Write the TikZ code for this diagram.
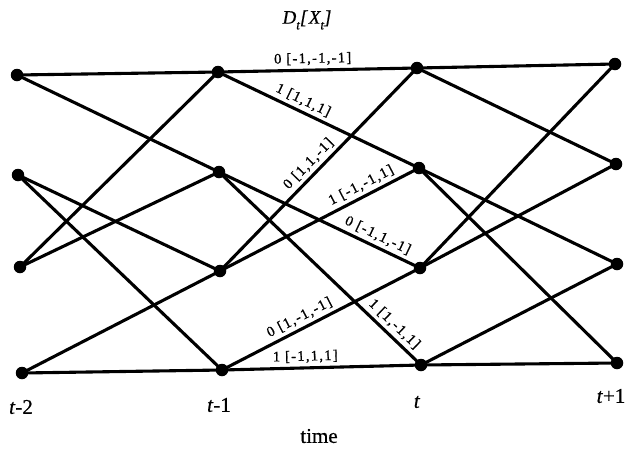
\documentclass[tikz,border=0pt]{standalone}
\usepackage{fontspec}
\setmainfont[FakeBold=0.6]{Liberation Serif}
\newfontfamily\lblfont[LetterSpace=9,FakeBold=0.8]{Liberation Serif}
\newfontfamily\ttlfont[LetterSpace=8,FakeBold=0.6]{Liberation Serif}
\newfontfamily\axfont[FakeBold=0.6]{Liberation Serif}
\begin{document}
\begin{tikzpicture}[x=1pt,y=-1pt,
  st/.style={circle, fill=black, inner sep=0pt, minimum size=12.5pt},
  edge/.style={line width=3.1pt},
  lab/.style={sloped, above, font=\lblfont\fontsize{14.5}{14.5}\selectfont, inner sep=3.5pt},
  tlab/.style={font=\axfont\fontsize{21}{21}\selectfont},
  ttl/.style={font=\ttlfont\fontsize{19}{19}\selectfont\itshape}]
\useasboundingbox (0,0) rectangle (632,451);
% states
\node[st] (a0) at (17,75) {};
\node[st] (a1) at (18,175) {};
\node[st] (a2) at (20,267) {};
\node[st] (a3) at (22,373) {};
\node[st] (b0) at (218,72) {};
\node[st] (b1) at (219,172) {};
\node[st] (b2) at (220,271) {};
\node[st] (b3) at (222,370) {};
\node[st] (c0) at (417,68) {};
\node[st] (c1) at (419,168) {};
\node[st] (c2) at (420,268) {};
\node[st] (c3) at (421,365) {};
\node[st] (d0) at (615,64) {};
\node[st] (d1) at (616,164) {};
\node[st] (d2) at (617,264) {};
\node[st] (d3) at (617,363) {};
% stage a -> b
\draw[edge] (a0.center) -- (b0.center);
\draw[edge] (a0.center) -- (b1.center);
\draw[edge] (a1.center) -- (b2.center);
\draw[edge] (a1.center) -- (b3.center);
\draw[edge] (a2.center) -- (b0.center);
\draw[edge] (a2.center) -- (b1.center);
\draw[edge] (a3.center) -- (b2.center);
\draw[edge] (a3.center) -- (b3.center);
% stage b -> c (labelled)
\draw[edge] (b0.center) -- node[lab, pos=0.477] {0 [-1,-1,-1]} (c0.center);
\draw[edge] (b0.center) -- node[lab, pos=0.40] {1 [1,1,1]} (c1.center);
\draw[edge] (b1.center) -- node[lab, pos=0.766] {0 [-1,1,-1]} (c2.center);
\draw[edge] (b1.center) -- node[lab, pos=0.83] {1 [1,-1,1]} (c3.center);
\draw[edge] (b2.center) -- node[lab, pos=0.49] {0 [1,1,-1]} (c0.center);
\draw[edge] (b2.center) -- node[lab, pos=0.735] {1 [-1,-1,1]} (c1.center);
\draw[edge] (b3.center) -- node[lab, pos=0.417] {0 [1,-1,-1]} (c2.center);
\draw[edge] (b3.center) -- node[lab, pos=0.42] {1 [-1,1,1]} (c3.center);
% stage c -> d
\draw[edge] (c0.center) -- (d0.center);
\draw[edge] (c0.center) -- (d1.center);
\draw[edge] (c1.center) -- (d2.center);
\draw[edge] (c1.center) -- (d3.center);
\draw[edge] (c2.center) -- (d0.center);
\draw[edge] (c2.center) -- (d1.center);
\draw[edge] (c3.center) -- (d2.center);
\draw[edge] (c3.center) -- (d3.center);
% title and axis labels
\node[ttl] (title) at (307,20) {D\raisebox{-0.3em}{\fontsize{13}{13}\selectfont t}[X\raisebox{-0.3em}{\fontsize{13}{13}\selectfont t}]};
\node[tlab] (t0) at (21,407) {\textit{t}-2};
\node[tlab] (t1) at (219,405) {\textit{t}-1};
\node[tlab] (t2) at (417,402) {\textit{t}};
\node[tlab] (t3) at (611,396) {\textit{t}+1};
\node[tlab] (time) at (319,436) {time};
\end{tikzpicture}
\end{document}
